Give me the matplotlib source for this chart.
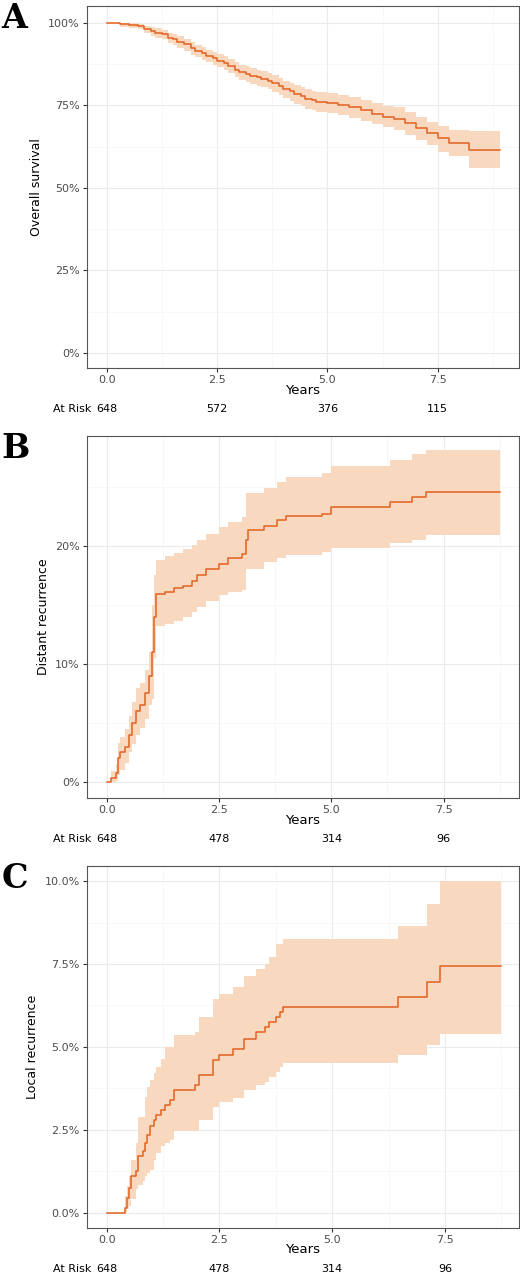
import matplotlib
matplotlib.use("Agg")
import matplotlib.pyplot as plt
import numpy as np
from matplotlib.ticker import FuncFormatter, MultipleLocator

# ---- Panel A: overall survival (%)
a_t = [0, 0.3, 0.5, 0.7, 0.85, 1.0, 1.1, 1.25, 1.4, 1.5, 1.6, 1.75, 1.9, 2.0, 2.15, 2.25, 2.4, 2.5, 2.65, 2.75, 2.9, 3.0, 3.15, 3.25, 3.4, 3.5, 3.65, 3.75, 3.9, 4.0, 4.15, 4.25, 4.4, 4.5, 4.65, 4.75, 5.0, 5.25, 5.5, 5.75, 6.0, 6.25, 6.5, 6.75, 7.0, 7.25, 7.5, 7.75, 8.2, 8.9]
a_s = [100, 99.5, 99.2, 99, 98, 97.5, 97, 96.5, 95.5, 95, 94.2, 93.5, 92.3, 91.5, 90.8, 90, 89.2, 88.5, 87.8, 87, 85.8, 85, 84.5, 84, 83.5, 83, 82.4, 81.8, 80.8, 80, 79.2, 78.5, 77.8, 77, 76.5, 76, 75.8, 75, 74.5, 73.5, 72.5, 71.5, 71, 69.5, 68, 66.5, 65, 63.5, 61.5, 61.5]
a_lo = [100, 98.8, 98.4, 98, 97, 96, 95.5, 95, 93.8, 93.3, 92.3, 91.5, 90.3, 89.5, 88.8, 88, 87.2, 86.5, 85.7, 84.8, 83.5, 82.6, 82, 81.5, 81, 80.5, 79.8, 79, 78, 77.3, 76.4, 75.5, 74.8, 74, 73.5, 73, 72.8, 72, 71.3, 70.3, 69.3, 68.3, 67.5, 66, 64.5, 63, 61, 59.5, 56, 56]
a_hi = [100, 100, 99.8, 99.6, 99, 98.8, 98.3, 97.8, 97, 96.5, 95.9, 95.2, 94.2, 93.3, 92.6, 91.8, 91.1, 90.5, 89.8, 89, 88.1, 87.3, 86.8, 86.3, 85.8, 85.3, 84.8, 84.2, 83.3, 82.5, 81.9, 81.3, 80.5, 79.8, 79.4, 79, 78.8, 78, 77.6, 76.6, 75.6, 74.8, 74.5, 73, 71.5, 70, 68.7, 67.6, 67.3, 67.3]
a_risk = [648, 572, 376, 115]

# ---- Panel B: distant recurrence (%)
b_t = [0, 0.1, 0.2, 0.25, 0.3, 0.4, 0.5, 0.55, 0.65, 0.75, 0.85, 0.95, 1.0, 1.05, 1.1, 1.3, 1.5, 1.7, 1.9, 2.0, 2.2, 2.5, 2.7, 3.0, 3.1, 3.15, 3.5, 3.8, 4.0, 4.8, 5.0, 6.3, 6.8, 7.1, 8.75]
b_c = [0, 0.3, 0.8, 2, 2.5, 3, 4, 5, 6, 6.5, 7.5, 9, 11, 14, 15.9, 16.1, 16.4, 16.6, 17, 17.5, 18, 18.5, 19, 19.3, 20.5, 21.3, 21.7, 22.2, 22.5, 22.7, 23.3, 23.7, 24.1, 24.6, 24.6]
b_lo = [0, 0, 0.1, 0.6, 1.0, 1.6, 2.5, 3.2, 4.0, 4.6, 5.3, 6.5, 7.0, 10.5, 13.2, 13.4, 13.6, 14.0, 14.4, 14.8, 15.3, 15.8, 16.1, 16.3, 18.0, 18.0, 18.6, 19.0, 19.2, 19.5, 19.8, 20.2, 20.5, 20.9, 20.9]
b_hi = [0, 0.9, 1.5, 3.3, 3.8, 4.5, 5.6, 6.8, 8.0, 8.4, 9.5, 11, 15, 17.5, 18.8, 19.1, 19.4, 19.7, 20.1, 20.5, 21.0, 21.6, 22.0, 22.4, 24.5, 24.5, 24.9, 25.4, 25.8, 26.2, 26.8, 27.3, 27.8, 28.1, 28.1]
b_risk = [648, 478, 314, 96]

# ---- Panel C: local recurrence (%)
c_t = [0, 0.4, 0.45, 0.5, 0.55, 0.65, 0.7, 0.8, 0.85, 0.9, 0.95, 1.05, 1.1, 1.2, 1.3, 1.4, 1.5, 1.95, 2.05, 2.35, 2.5, 2.8, 3.05, 3.3, 3.5, 3.6, 3.75, 3.85, 3.9, 6.45, 7.1, 7.4, 8.75]
c_c = [0, 0.15, 0.45, 0.75, 1.1, 1.25, 1.7, 1.85, 2.1, 2.35, 2.6, 2.8, 2.95, 3.1, 3.25, 3.4, 3.7, 3.85, 4.15, 4.6, 4.75, 4.95, 5.25, 5.45, 5.6, 5.75, 5.9, 6.05, 6.2, 6.5, 6.95, 7.45, 7.45]
c_lo = [0, 0, 0.1, 0.2, 0.4, 0.7, 0.85, 0.95, 1.1, 1.2, 1.3, 1.6, 1.8, 2.0, 2.1, 2.2, 2.45, 2.45, 2.8, 3.2, 3.35, 3.45, 3.7, 3.85, 3.95, 4.1, 4.25, 4.4, 4.5, 4.75, 5.05, 5.4, 5.4]
c_hi = [0, 0.5, 0.8, 1.1, 1.6, 2.1, 2.9, 2.9, 3.5, 3.8, 4.0, 4.2, 4.4, 4.65, 5.0, 5.0, 5.35, 5.45, 5.9, 6.45, 6.6, 6.8, 7.15, 7.35, 7.5, 7.7, 8.1, 8.1, 8.25, 8.65, 9.3, 10.0, 10.0]
c_risk = [648, 478, 314, 96]

risk_times = [0, 2.5, 5.0, 7.5]
LINE = "#E2611F"
FILL = "#F8D8BE"

fig = plt.figure(figsize=(5.2, 12.73), dpi=100)

panels = [
    ("A", a_t, a_s, a_lo, a_hi, a_risk, "Overall survival", (-0.45, 9.34), (-4.6, 105.1), [0, 25, 50, 75, 100], 12.5, 0.7109, lambda v, p: f"{v:.0f}%"),
    ("B", b_t, b_c, b_lo, b_hi, b_risk, "Distant recurrence", (-0.445, 9.18), (-1.36, 29.3), [0, 10, 20], 5, 0.3731, lambda v, p: f"{v:.0f}%"),
    ("C", c_t, c_c, c_lo, c_hi, c_risk, "Local recurrence", (-0.44, 9.14), (-0.46, 10.46), [0, 2.5, 5, 7.5, 10], 1.25, 0.0354, lambda v, p: f"{v:.1f}%"),
]

for (lab, t, v, lo, hi, risk, ylab, xl, yl, yt, ymin, bottom, fmt) in panels:
    ax = fig.add_axes([0.167, bottom, 0.831, 0.2844])
    ax.fill_between(t, lo, hi, step="post", color=FILL, linewidth=0)
    ax.step(t, v, where="post", color=LINE, linewidth=1.1)
    ax.set_xlim(*xl)
    ax.set_ylim(*yl)
    ax.set_xticks([0, 2.5, 5.0, 7.5])
    ax.set_xticklabels(["0.0", "2.5", "5.0", "7.5"])
    ax.xaxis.set_minor_locator(MultipleLocator(1.25))
    ax.set_yticks(yt)
    ax.yaxis.set_minor_locator(MultipleLocator(ymin))
    ax.yaxis.set_major_formatter(FuncFormatter(fmt))
    ax.grid(True, which="major", color="#EBEBEB", linewidth=0.8)
    ax.grid(True, which="minor", color="#F5F5F5", linewidth=0.5)
    ax.set_axisbelow(True)
    ax.tick_params(which="minor", length=0)
    ax.tick_params(which="major", length=3, color="#333333", labelsize=8, labelcolor="#4D4D4D", pad=2)
    for s in ax.spines.values():
        s.set_color("#555555")
        s.set_linewidth(0.8)
    ax.set_xlabel("Years", fontsize=9.5, labelpad=-1)
    ax.set_ylabel(ylab, fontsize=9)
    for rt, r in zip(risk_times, risk):
        ax.annotate(str(r), xy=(rt, 0), xycoords=("data", "axes fraction"),
                    xytext=(0, -29.5), textcoords="offset points", ha="center", va="center", fontsize=8)
    ax.annotate("At Risk", xy=(0, 0), xycoords="axes fraction", xytext=(-24.5, -29.5),
                textcoords="offset points", ha="left", va="center", fontsize=8)
    fig.text(0.003, bottom + 0.2844 + 0.003, lab, fontsize=24, fontweight="bold",
             family="DejaVu Serif", va="top", ha="left")

fig.savefig("out.png", dpi=100)
